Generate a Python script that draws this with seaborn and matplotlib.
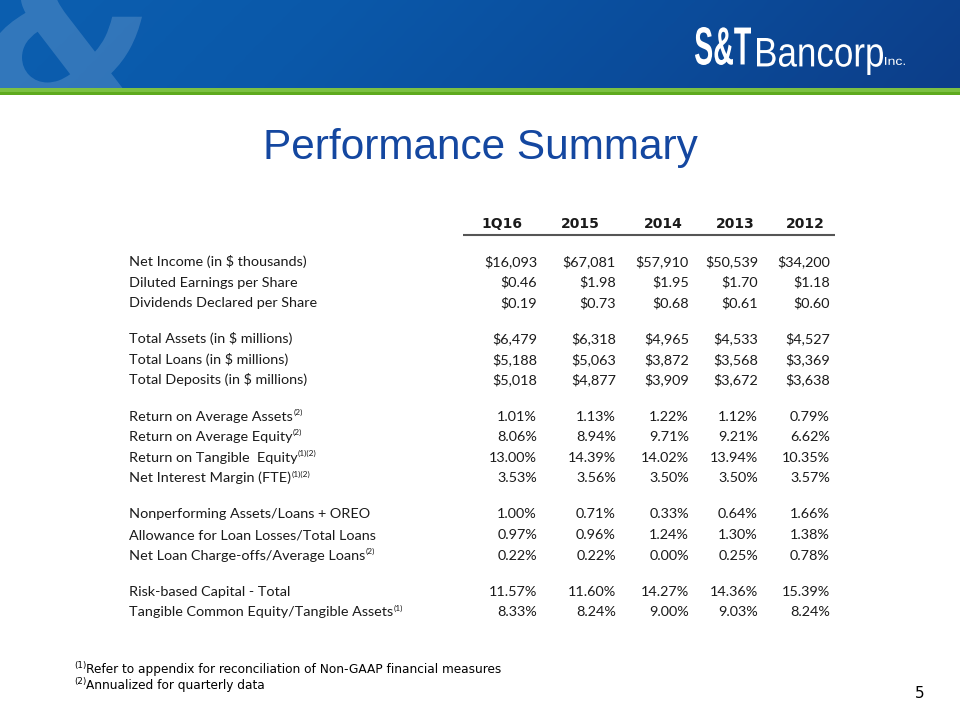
import numpy as np
import pandas as pd
import matplotlib
matplotlib.use("Agg")
import matplotlib.pyplot as plt
import seaborn as sns
from matplotlib.patches import Rectangle, PathPatch
from matplotlib.textpath import TextPath
from matplotlib.font_manager import FontProperties
from matplotlib.colors import LinearSegmentedColormap
from matplotlib.transforms import Affine2D

sns.set_theme(style="white")
plt.rcParams['font.family'] = ['Lato', 'DejaVu Sans']

# ---------------- data ----------------
periods = ["1Q16", "2015", "2014", "2013", "2012"]
metrics = [
    "Net Income (in $ thousands)",
    "Diluted Earnings per Share",
    "Dividends Declared per Share",
    "Total Assets (in $ millions)",
    "Total Loans (in $ millions)",
    "Total Deposits (in $ millions)",
    "Return on Average Assets",
    "Return on Average Equity",
    "Return on Tangible  Equity",
    "Net Interest Margin (FTE)",
    "Nonperforming Assets/Loans + OREO",
    "Allowance for Loan Losses/Total Loans",
    "Net Loan Charge-offs/Average Loans",
    "Risk-based Capital - Total",
    "Tangible Common Equity/Tangible Assets",
]
metric_notes = ["", "", "", "", "", "", "(2)", "(2)", "(1)(2)", "(1)(2)",
                "", "", "(2)", "", "(1)"]
metric_group = [0, 0, 0, 1, 1, 1, 2, 2, 2, 2, 3, 3, 3, 4, 4]
metric_format = ["${:,.0f}", "${:.2f}", "${:.2f}", "${:,.0f}", "${:,.0f}", "${:,.0f}",
                 "{:.2f}%", "{:.2f}%", "{:.2f}%", "{:.2f}%",
                 "{:.2f}%", "{:.2f}%", "{:.2f}%", "{:.2f}%", "{:.2f}%"]

net_income = [16093, 67081, 57910, 50539, 34200]
diluted_eps = [0.46, 1.98, 1.95, 1.70, 1.18]
dividends_ps = [0.19, 0.73, 0.68, 0.61, 0.60]
total_assets = [6479, 6318, 4965, 4533, 4527]
total_loans = [5188, 5063, 3872, 3568, 3369]
total_deposits = [5018, 4877, 3909, 3672, 3638]
roaa = [1.01, 1.13, 1.22, 1.12, 0.79]
roae = [8.06, 8.94, 9.71, 9.21, 6.62]
rote = [13.00, 14.39, 14.02, 13.94, 10.35]
nim = [3.53, 3.56, 3.50, 3.50, 3.57]
npa_ratio = [1.00, 0.71, 0.33, 0.64, 1.66]
alll_ratio = [0.97, 0.96, 1.24, 1.30, 1.38]
nco_ratio = [0.22, 0.22, 0.00, 0.25, 0.78]
rbc_total = [11.57, 11.60, 14.27, 14.36, 15.39]
tce_ratio = [8.33, 8.24, 9.00, 9.03, 8.24]

footnotes = [("(1)", "Refer to appendix for reconciliation of Non-GAAP financial measures"),
             ("(2)", "Annualized for quarterly data")]
title = "Performance Summary"
page_number = "5"

table = pd.DataFrame([net_income, diluted_eps, dividends_ps, total_assets, total_loans,
                      total_deposits, roaa, roae, rote, nim, npa_ratio, alll_ratio,
                      nco_ratio, rbc_total, tce_ratio], index=metrics, columns=periods)

# ---------------- figure ----------------
W, H = 960, 720
fig = plt.figure(figsize=(9.6, 7.2), dpi=100)
ax = fig.add_axes([0, 0, 1, 1])
ax.set_xlim(0, W)
ax.set_ylim(H, 0)
ax.axis("off")
fig.patch.set_facecolor("white")

# banner gradient
cmap = LinearSegmentedColormap.from_list("banner", ["#0C5FB0", "#0A58A9", "#0B4C9B", "#0D3E89"])
gx = np.linspace(0, 1, 256)
gy = np.linspace(0, 1, 32)
grad = gx[None, :] * 0.92 + gy[:, None] * 0.08
ax.imshow(grad, cmap=cmap, extent=[0, W, 88, 0], aspect="auto", zorder=0, interpolation="bicubic")
banner_clip = Rectangle((0, 0), W, 88, transform=ax.transData, facecolor="none", edgecolor="none")
ax.add_patch(banner_clip)

# green stripe
ax.add_patch(Rectangle((0, 88), W, 3.5, facecolor="#7CC142", edgecolor="none", zorder=1))
ax.add_patch(Rectangle((0, 91.5), W, 3.5, facecolor="#5FAA1E", edgecolor="none", zorder=1))


def fit_path(text, prop, x0, x1, ytop, ybot, **kw):
    tp = TextPath((0, 0), text, size=100, prop=prop)
    ext = tp.get_extents()
    sx = (x1 - x0) / ext.width
    sy = (ybot - ytop) / ext.height
    tr = Affine2D().translate(-ext.x0, -ext.y1).scale(sx, -sy).translate(x0, ytop)
    path = tr.transform_path(tp)
    p = PathPatch(path, transform=ax.transData, **kw)
    ax.add_patch(p)
    return p


# watermark ampersand
amp = fit_path("&", FontProperties(family="DejaVu Sans", weight="bold", style="oblique"),
               -12, 142, -45, 108, facecolor="white", edgecolor="none", alpha=0.16, zorder=1)
amp.set_clip_path(banner_clip)

# logo
fit_path("S&T", FontProperties(family=["Liberation Sans Narrow", "Liberation Sans"], weight="bold"),
         695, 751, 27, 65, facecolor="white", edgecolor="none", zorder=3)
fit_path("Bancorp", FontProperties(family=["Liberation Sans Narrow", "Liberation Sans"]),
         757, 883, 38, 75, facecolor="white", edgecolor="none", zorder=3)
fit_path("Inc.", FontProperties(family=["Liberation Sans Narrow", "Liberation Sans"]),
         885, 905, 57, 65, facecolor="white", edgecolor="none", zorder=3)

# title
ax.text(480, 159, title, ha="center", va="baseline", fontsize=30.5,
        family="Liberation Sans", color="#1447A0")

# table
text_color = "#1A1A1A"
value_right = [537, 616, 689, 758, 830]
header_right = [522, 600, 683, 755, 825]
for p, xr in zip(periods, header_right):
    ax.text(xr, 228, p, ha="right", va="baseline", fontsize=10, fontweight="bold",
            family="DejaVu Sans", color=text_color)
ax.plot([463, 835], [235, 235], color="#555555", lw=1.5, solid_capstyle="butt")

fig.canvas.draw()
renderer = fig.canvas.get_renderer()
label_fs = 10.4
for i, m in enumerate(metrics):
    yb = 261 + 20.6 * i + 15.5 * metric_group[i] + 5
    t = ax.text(129, yb, m, ha="left", va="baseline", fontsize=label_fs,
                family="Lato", color=text_color)
    if metric_notes[i]:
        bb = t.get_window_extent(renderer)
        ax.text(bb.x1 + 0.5, yb - 6, metric_notes[i], ha="left", va="baseline",
                fontsize=6, family="Lato", color=text_color)
    for j, per in enumerate(periods):
        ax.text(value_right[j], yb, metric_format[i].format(table.loc[m, per]),
                ha="right", va="baseline", fontsize=label_fs, family="Lato", color=text_color)

# footnotes
for k, (sup, note) in enumerate(footnotes):
    yb = 673 + 16 * k
    ax.text(74, yb - 5, sup, ha="left", va="baseline", fontsize=6.3,
            family="DejaVu Sans", color="black")
    ax.text(86, yb, note, ha="left", va="baseline", fontsize=8.7,
            family="DejaVu Sans", color="black")

ax.text(920, 698, page_number, ha="center", va="baseline", fontsize=11,
        family="DejaVu Sans", color="black")

fig.savefig("out.png", dpi=100, facecolor="white")
